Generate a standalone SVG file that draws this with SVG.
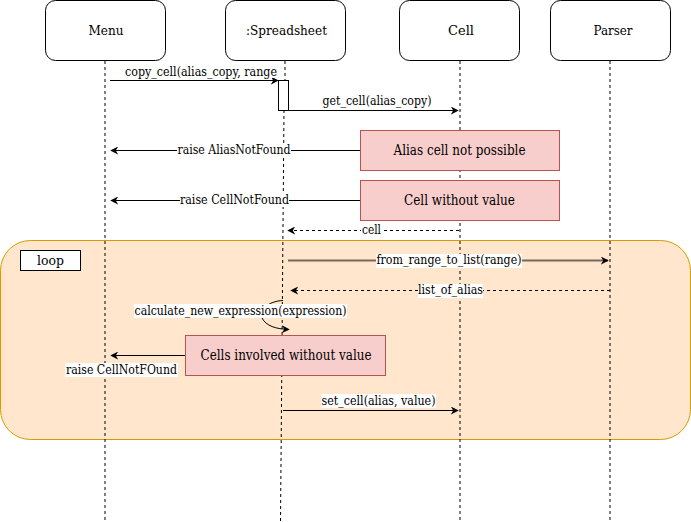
<svg xmlns="http://www.w3.org/2000/svg" width="691" height="522" viewBox="0 0 691 522" font-family="'DejaVu Serif', 'Liberation Serif', serif">
<defs>
<style>
.hdr rect{fill:#fff;stroke:#000;stroke-width:1}
.hdr text{font-size:13px;text-anchor:middle}
.life{stroke:#000;stroke-dasharray:3 3;fill:none}
.msg{stroke:#000;fill:none}
.ret{stroke:#000;fill:none;stroke-dasharray:3 3}
.lbl{font-size:12px;text-anchor:middle}
.note rect{fill:#f8cecc;stroke:#b85450}
.note text{font-size:14px;text-anchor:middle}
.bg{fill:#fff}
</style>
<marker id="ah" viewBox="0 0 10 10" refX="9" refY="5" markerWidth="8" markerHeight="8" markerUnits="userSpaceOnUse" orient="auto">
<path d="M0,0 L10,5 L0,10 L3,5 Z" fill="#000"/>
</marker>
</defs>
<g id="loop">
<rect x="0.5" y="240.5" width="690" height="199" rx="30" fill="#ffe6cc" stroke="#d79b00"/>
<rect x="20.5" y="250.5" width="60" height="20" fill="#fff" stroke="#000"/>
<text x="50.5" y="265" font-family="DejaVu Serif" textLength="27" lengthAdjust="spacingAndGlyphs" style="font-size:13px;text-anchor:middle">loop</text>
</g>
<g id="lifelines">
<line class="life" x1="105" y1="61" x2="105" y2="522"/>
<line class="life" x1="285" y1="61" x2="285" y2="80"/>
<line class="life" x1="284" y1="110" x2="280.5" y2="522"/>
<line class="life" x1="460" y1="61" x2="460" y2="522"/>
<line class="life" x1="610" y1="61" x2="610" y2="522"/>
</g>
<g id="menu" class="hdr"><rect x="45.5" y="0.5" width="120" height="60" rx="10"/><text x="106" y="35" textLength="35" lengthAdjust="spacingAndGlyphs">Menu</text></g>
<g id="spreadsheet" class="hdr"><rect x="225.5" y="0.5" width="120" height="60" rx="10"/><text x="286.5" y="35" textLength="81" lengthAdjust="spacingAndGlyphs">:Spreadsheet</text></g>
<g id="cell" class="hdr"><rect x="399.5" y="0.5" width="120" height="60" rx="10"/><text x="461" y="35" textLength="26" lengthAdjust="spacingAndGlyphs">Cell</text></g>
<g id="parser" class="hdr"><rect x="550.5" y="0.5" width="120" height="60" rx="10"/><text x="613" y="35" textLength="39" lengthAdjust="spacingAndGlyphs">Parser</text></g>
<g id="activation"><rect x="278.5" y="80.5" width="10" height="30" fill="#fff" stroke="#000"/></g>
<g id="note-alias" class="note"><rect x="360.5" y="130.5" width="199" height="40"/><text x="459.5" y="155" textLength="132" lengthAdjust="spacingAndGlyphs">Alias cell not possible</text></g>
<g id="note-cell" class="note"><rect x="360.5" y="180.5" width="199" height="40"/><text x="459.5" y="205" textLength="111" lengthAdjust="spacingAndGlyphs">Cell without value</text></g>
<g id="note-involved" class="note"><rect x="185.5" y="335.5" width="200" height="40"/><text x="286" y="360" textLength="171" lengthAdjust="spacingAndGlyphs">Cells involved without value</text></g>
<g id="connectors">
<line class="msg" x1="110" y1="80.5" x2="278" y2="80.5" marker-end="url(#ah)"/>
<rect class="bg" x="123" y="65" width="156" height="13"/>
<text class="lbl" x="201" y="76" textLength="152" lengthAdjust="spacingAndGlyphs">copy_cell(alias_copy, range</text>
<line class="msg" x1="288.5" y1="110.5" x2="458" y2="110.5" marker-end="url(#ah)"/>
<text class="lbl" x="377" y="105" textLength="109" lengthAdjust="spacingAndGlyphs">get_cell(alias_copy)</text>
<line class="msg" x1="360" y1="150.5" x2="111" y2="150.5" marker-end="url(#ah)"/>
<rect class="bg" x="177" y="143" width="114" height="14"/>
<text class="lbl" x="234" y="154" textLength="113" lengthAdjust="spacingAndGlyphs">raise AliasNotFound</text>
<line class="msg" x1="360" y1="200.5" x2="111" y2="200.5" marker-end="url(#ah)"/>
<rect class="bg" x="180" y="193" width="109" height="14"/>
<text class="lbl" x="234.5" y="204" textLength="109" lengthAdjust="spacingAndGlyphs">raise CellNotFound</text>
<line class="ret" x1="459" y1="230.5" x2="288" y2="230.5" marker-end="url(#ah)"/>
<rect class="bg" x="361" y="224" width="21" height="13"/>
<text class="lbl" x="371.5" y="234" textLength="19" lengthAdjust="spacingAndGlyphs">cell</text>
<line x1="288" y1="260.5" x2="608" y2="260.5" stroke="#776a5c" stroke-width="2" marker-end="url(#ah)"/>
<rect class="bg" x="376" y="254" width="146" height="14"/>
<text class="lbl" x="449" y="264" textLength="145" lengthAdjust="spacingAndGlyphs">from_range_to_list(range)</text>
<line class="ret" x1="610" y1="290.5" x2="291" y2="290.5" marker-end="url(#ah)"/>
<rect class="bg" x="418" y="284" width="65" height="14"/>
<text class="lbl" x="450.5" y="294" textLength="65" lengthAdjust="spacingAndGlyphs">list_of_alias</text>
<path class="msg" d="M283,300.5 C268,301 258,311 262,318 C266,326 276,329 289,329.5" marker-end="url(#ah)"/>
<rect class="bg" x="134" y="304" width="213" height="14"/>
<text class="lbl" x="240.5" y="315" textLength="212" lengthAdjust="spacingAndGlyphs">calculate_new_expression(expression)</text>
<line class="msg" x1="185" y1="355.5" x2="111" y2="355.5" marker-end="url(#ah)"/>
<rect class="bg" x="65" y="363" width="113" height="14"/>
<text class="lbl" x="121.5" y="374" textLength="111" lengthAdjust="spacingAndGlyphs">raise CellNotFOund</text>
<line class="msg" x1="283" y1="410.5" x2="458" y2="410.5" marker-end="url(#ah)"/>
<rect class="bg" x="321" y="394" width="115" height="14"/>
<text class="lbl" x="378.5" y="405" textLength="114" lengthAdjust="spacingAndGlyphs">set_cell(alias, value)</text>
</g>
</svg>
